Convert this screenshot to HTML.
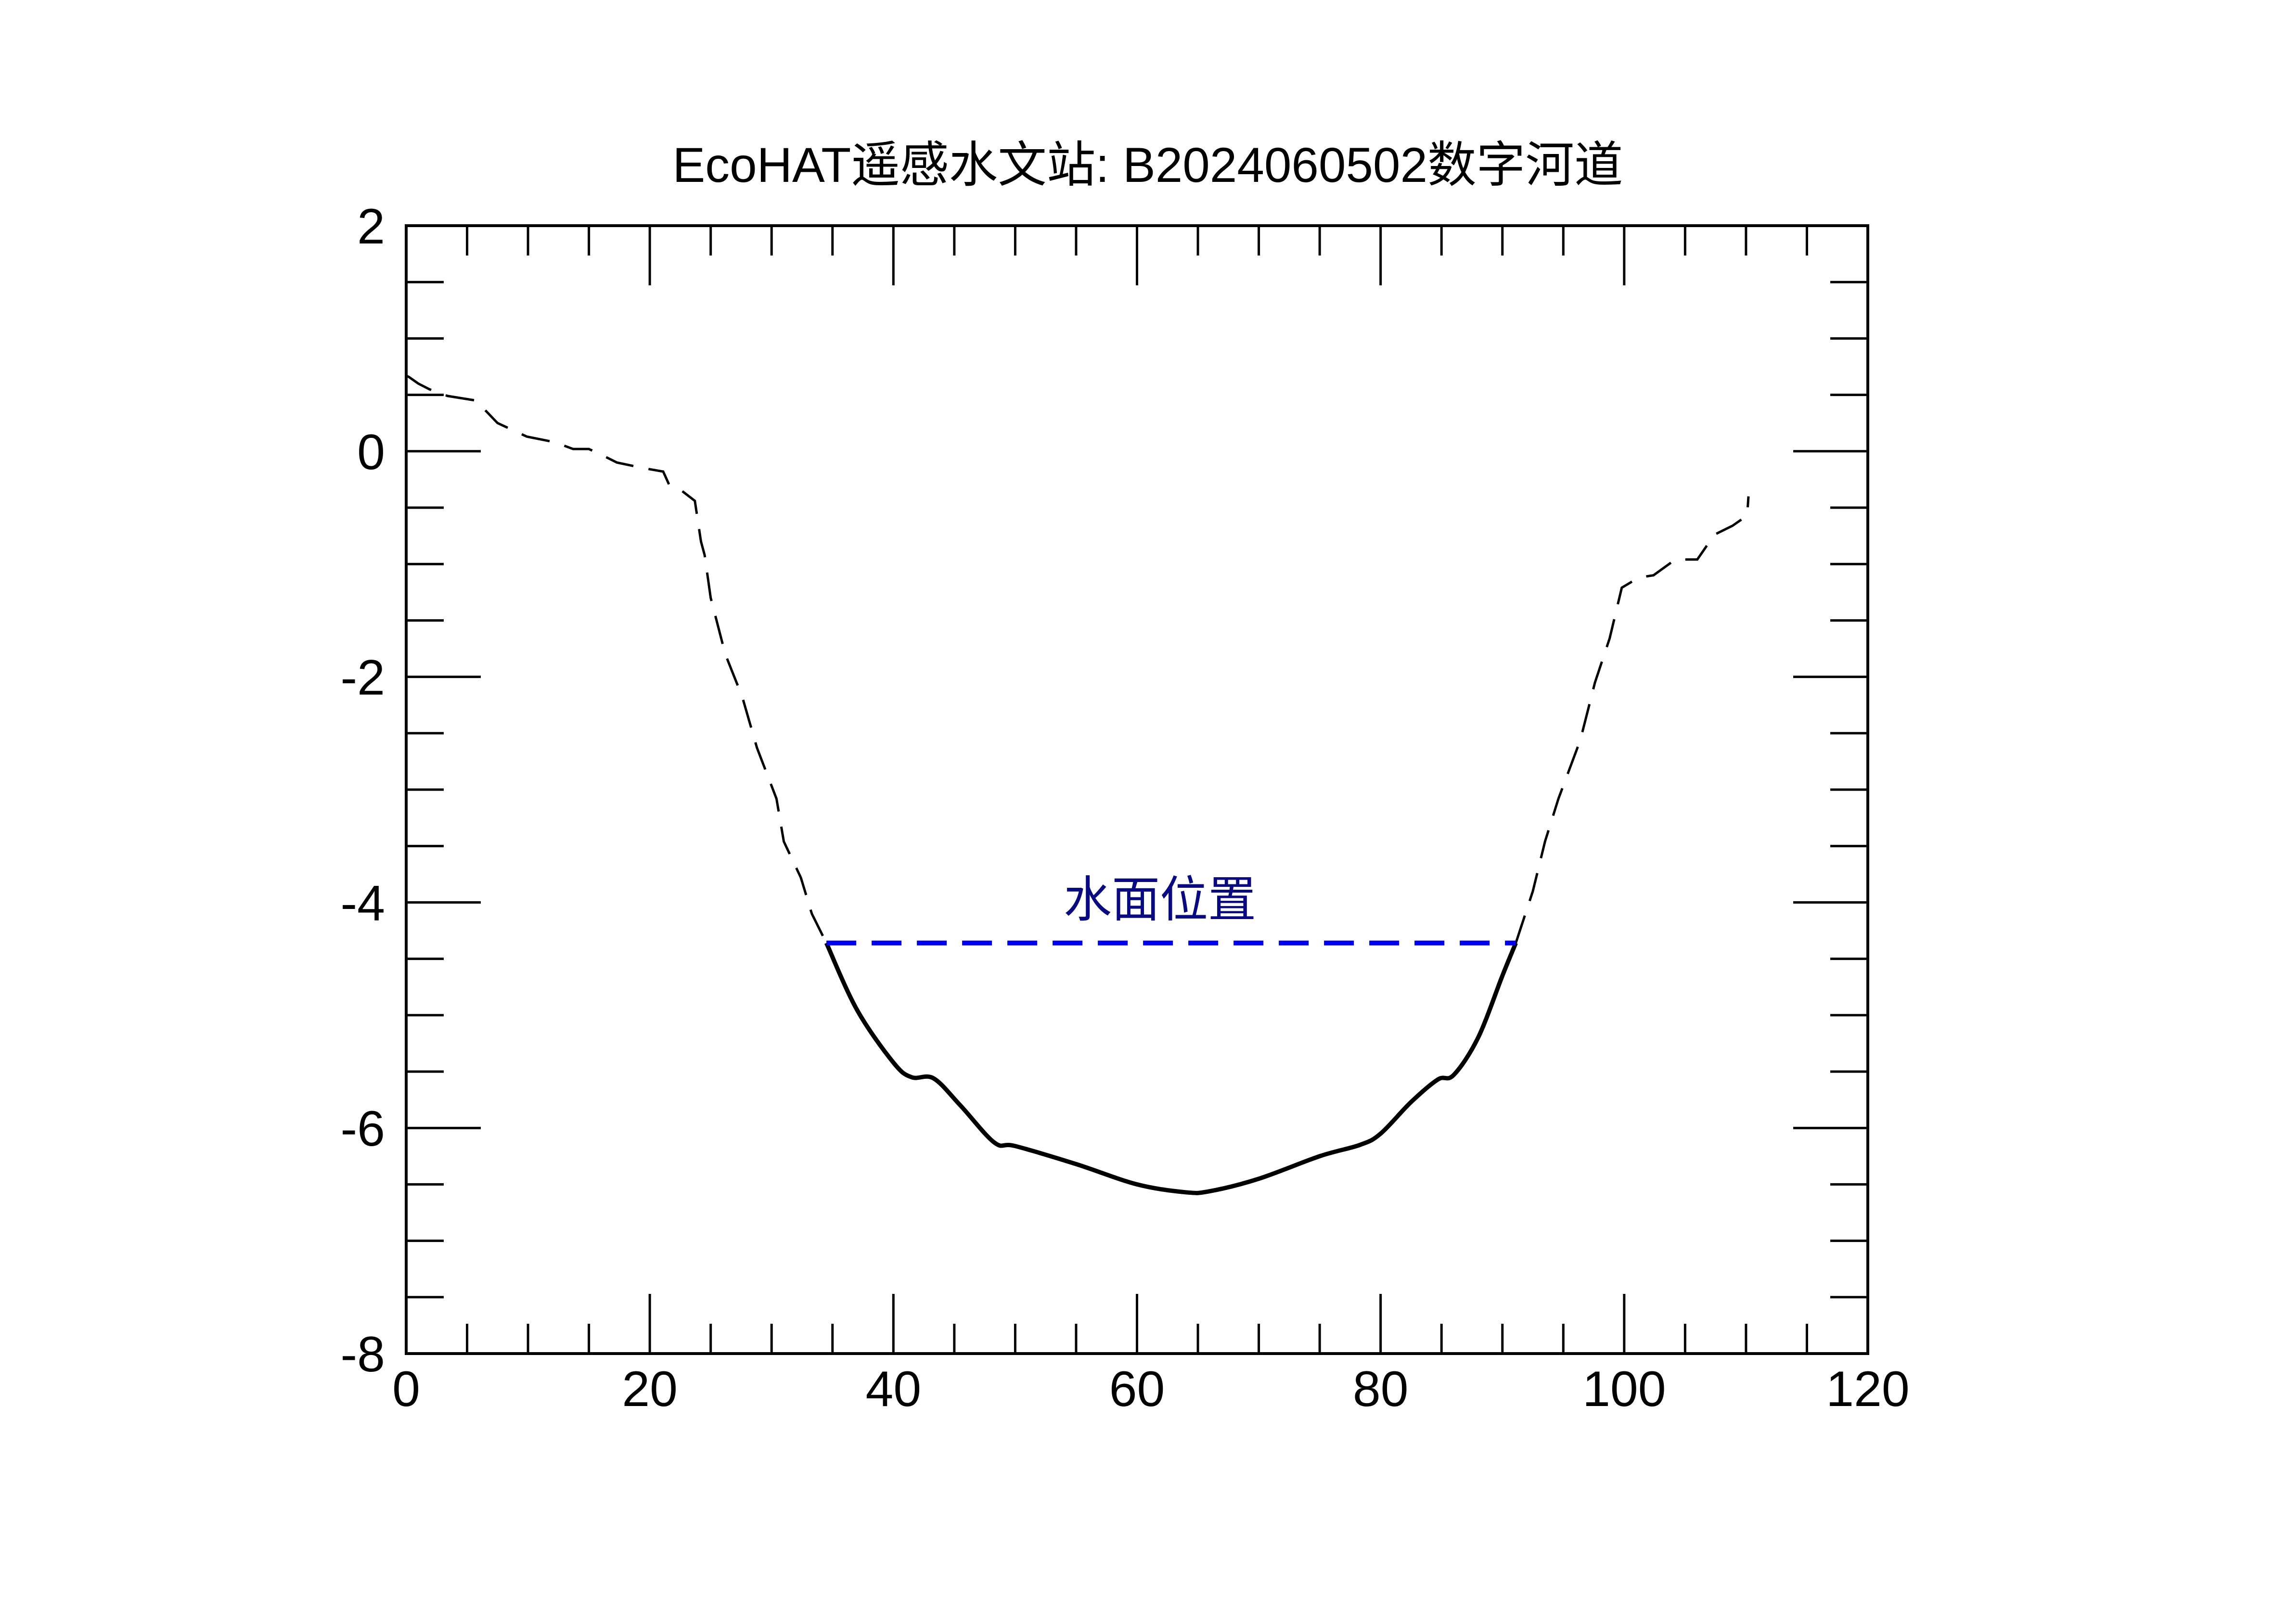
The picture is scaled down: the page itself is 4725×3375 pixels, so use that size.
<!DOCTYPE html>
<html><head><meta charset="utf-8"><style>
html,body{margin:0;padding:0;background:#fff;}
svg{display:block;}
text{font-family:"Liberation Sans","Noto Sans CJK SC",sans-serif;}
</style></head><body>
<svg id="s" width="4725" height="3375" xmlns="http://www.w3.org/2000/svg">
<rect width="4725" height="3375" fill="#fff"/>
<text x="2385" y="378" font-size="102" text-anchor="middle" textLength="1975" lengthAdjust="spacingAndGlyphs" fill="#000">EcoHAT遥感水文站: B2024060502数字河道</text>
<text x="2410" y="1905" font-size="102" text-anchor="middle" textLength="400" lengthAdjust="spacingAndGlyphs" fill="#0a0a80">水面位置</text>
<g id="g"></g>
</svg>
<script>
const X=v=>844+v*3037/120, Y=v=>469+(2-v)*234.4;
const g=document.getElementById('g');let h='';
for(let i=0;i<=24;i++){const x=X(i*5),L=(i%4==0)?124:62;
 h+=`<line x1="${x}" y1="469" x2="${x}" y2="${469+L}" stroke="#000" stroke-width="5"/>`;
 h+=`<line x1="${x}" y1="2813" x2="${x}" y2="${2813-L}" stroke="#000" stroke-width="5"/>`;
 if(i%4==0)h+=`<text x="${x}" y="2922" font-size="104" text-anchor="middle">${i*5}</text>`;}
for(let i=0;i<=20;i++){const v=2-i*0.5,y=Y(v),L=(i%4==0)?155:78;
 h+=`<line x1="844" y1="${y}" x2="${844+L}" y2="${y}" stroke="#000" stroke-width="5"/>`;
 h+=`<line x1="3881" y1="${y}" x2="${3881-L}" y2="${y}" stroke="#000" stroke-width="5"/>`;
 if(i%4==0)h+=`<text x="800" y="${y+37}" font-size="104" text-anchor="end">${v}</text>`;}
h+=`<rect x="844" y="469" width="3037" height="2344" fill="none" stroke="#000" stroke-width="6"/>`;
const dl=[[0,0.67],[0.2,0.66],[1.0,0.6],[1.9,0.55],[3.4,0.49],[5.7,0.45],[6.7,0.34],[7.5,0.25],[8.5,0.2],[9.9,0.13],[12.2,0.08],[13.7,0.02],[15,0.02],[16,-0.03],[17.3,-0.1],[19.5,-0.15],[21.1,-0.18],[21.6,-0.3],[22.5,-0.34],[23.7,-0.44],[24.2,-0.8],[24.5,-0.92],[25,-1.3],[26.2,-1.8],[27.6,-2.18],[28.8,-2.63],[30.4,-3.08],[31,-3.46],[32.4,-3.78],[33.3,-4.1],[34.5,-4.36]];
const dr=[[91.1,-4.36],[92.5,-3.9],[93.5,-3.46],[94.6,-3.08],[96.4,-2.56],[97.6,-2.05],[98.8,-1.66],[99.8,-1.21],[101.2,-1.12],[102.4,-1.1],[104.2,-0.96],[106,-0.96],[107.4,-0.74],[108.9,-0.66],[110.1,-0.57],[110.2,-0.4]];
const pl=a=>a.map(p=>X(p[0]).toFixed(1)+','+Y(p[1]).toFixed(1)).join(' ');
h+=`<polyline points="${pl(dl)}" fill="none" stroke="#000" stroke-width="5" stroke-dasharray="60,32"/>`;
h+=`<polyline points="${pl(dr)}" fill="none" stroke="#000" stroke-width="5" stroke-dasharray="60,32"/>`;
const sp=[[34.5,-4.36],[37,-4.95],[40,-5.42],[41.5,-5.55],[43.3,-5.56],[45.5,-5.8],[48.3,-6.13],[50,-6.16],[55,-6.32],[60,-6.5],[64,-6.57],[66,-6.56],[70,-6.45],[75,-6.25],[78.3,-6.15],[80,-6.05],[82.5,-5.77],[84.7,-5.57],[86,-5.53],[88,-5.2],[90,-4.65],[91.1,-4.36]];
const P=sp.map(p=>[X(p[0]),Y(p[1])]);
let d=`M${P[0][0]},${P[0][1]}`;
for(let i=0;i<P.length-1;i++){const p0=P[i-1]||P[i],p1=P[i],p2=P[i+1],p3=P[i+2]||P[i+1];
 d+=` C${p1[0]+(p2[0]-p0[0])/6},${p1[1]+(p2[1]-p0[1])/6} ${p2[0]-(p3[0]-p1[0])/6},${p2[1]-(p3[1]-p1[1])/6} ${p2[0]},${p2[1]}`;}
h+=`<path d="${d}" fill="none" stroke="#000" stroke-width="9" stroke-linejoin="round"/>`;
h+=`<line x1="${X(34.5)}" y1="${Y(-4.36)}" x2="${X(91.1)}" y2="${Y(-4.36)}" stroke="#0000ee" stroke-width="10" stroke-dasharray="62,32"/>`;
g.innerHTML=h;
</script>
</body></html>
